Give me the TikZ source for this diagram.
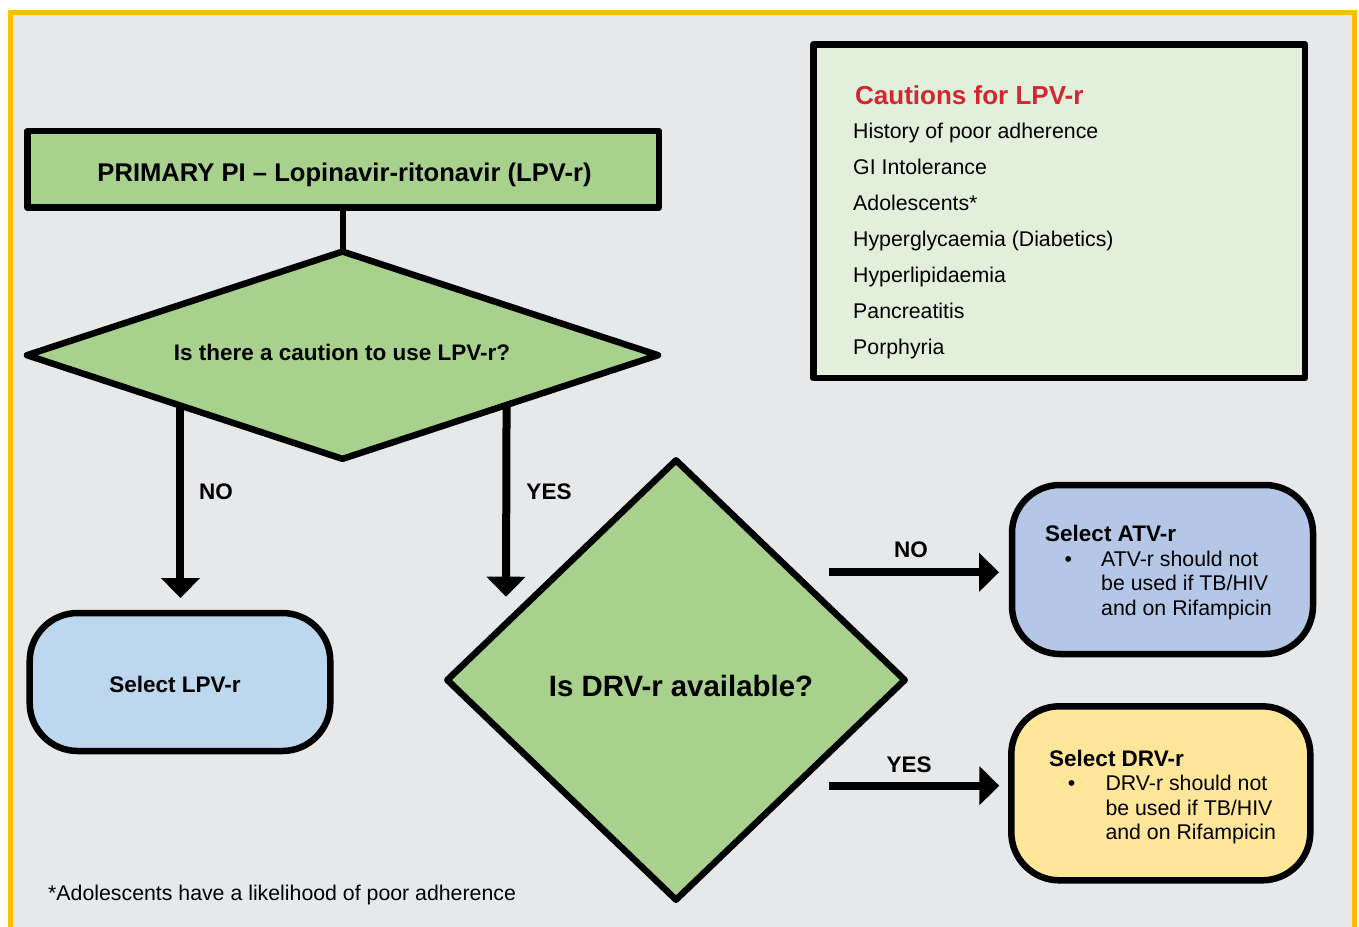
\documentclass[tikz,border=0pt]{standalone}
\usepackage{fontspec}
\setmainfont{Liberation Sans}
\usetikzlibrary{shapes.geometric,arrows.meta,calc}
\definecolor{pagegray}{HTML}{E7E8EA}
\definecolor{frameyellow}{HTML}{FFC000}
\definecolor{decgreen}{HTML}{A9D18E}
\definecolor{lpvblue}{HTML}{BDD7EE}
\definecolor{atvblue}{HTML}{B4C7E7}
\definecolor{drvyellow}{HTML}{FFE699}
\definecolor{cautiongreen}{HTML}{E2EFDA}
\definecolor{cautionred}{HTML}{D22630}
\begin{document}
\begin{tikzpicture}[x=1pt,y=-1pt,
  outline/.style={draw=black,line width=6.5pt,line join=round,outer sep=0pt,inner sep=0pt},
  plainbox/.style={outline,rectangle},
  roundbox/.style={outline,rectangle,rounded corners=48pt},
  decision/.style={outline,diamond,fill=decgreen},
  txt/.style={font=\fontsize{21.3}{24}\selectfont,inner sep=0pt},
  btxt/.style={font=\fontsize{22.5}{26}\selectfont\bfseries,inner sep=0pt},
  arr/.style={line width=8pt,-{Triangle[length=20pt,width=38pt]}},
  link/.style={line width=6.5pt},
]
\useasboundingbox (0,0) rectangle (1359,926);
\clip (0,0) rectangle (1359,926);
\fill[white] (0,0) rectangle (1359,926);
% page frame
\draw[frameyellow,line width=5pt,fill=pagegray] (10.5,12.5) rectangle (1354.5,960);

% primary choice
\node[plainbox,fill=decgreen,minimum width=631.7pt,minimum height=76.3pt] (title) at (343.2,169.3) {};
\node[font=\fontsize{25.6}{30}\selectfont\bfseries,inner sep=0pt,anchor=base] (titletext) at (344.5,181.7)
  {PRIMARY PI -- Lopinavir-ritonavir (LPV-r)};

% first decision
\node[decision,minimum width=631pt,minimum height=207.3pt] (d1) at (342.5,355.2) {};
\node[btxt,anchor=base] (d1text) at (342,360) {Is there a caution to use LPV-r?};
\draw[link] (title.south) -- (title.south |- d1.north);

% outcome boxes
\node[roundbox,fill=lpvblue,minimum width=300.6pt,minimum height=138pt] (lpv) at (180,682) {};
\node[btxt,anchor=base] (lpvtext) at (175,692) {Select LPV-r};

\node[decision,minimum width=457.4pt,minimum height=439.4pt] (d2) at (676,680) {};
\node[font=\fontsize{29.4}{34}\selectfont\bfseries,inner sep=0pt,anchor=base] (d2text) at (681,696.5) {Is DRV-r available?};

\node[roundbox,fill=atvblue,minimum width=301pt,minimum height=169pt] (atv) at (1162.5,569.5) {};
\node[btxt,anchor=base west] (atvhead) at (1045,541.7) {Select ATV-r};
\node[txt,anchor=base] (atvbullet) at (1068.3,566.7) {\textbullet};
\node[txt,anchor=base west] (atvl1) at (1101,566.7) {ATV-r should not};
\node[txt,anchor=base west] (atvl2) at (1101,590.7) {be used if TB/HIV};
\node[txt,anchor=base west] (atvl3) at (1101,615) {and on Rifampicin};

\node[roundbox,fill=drvyellow,minimum width=299pt,minimum height=174pt] (drv) at (1160.8,793.3) {};
\node[btxt,anchor=base west] (drvhead) at (1049,766) {Select DRV-r};
\node[txt,anchor=base] (drvbullet) at (1071.7,790.7) {\textbullet};
\node[txt,anchor=base west] (drvl1) at (1105.3,790.7) {DRV-r should not};
\node[txt,anchor=base west] (drvl2) at (1105.3,815) {be used if TB/HIV};
\node[txt,anchor=base west] (drvl3) at (1105.3,839.3) {and on Rifampicin};

% cautions panel
\node[plainbox,fill=cautiongreen,minimum width=491.7pt,minimum height=333.7pt] (cautions) at (1059.2,211.2) {};
\node[font=\fontsize{26}{30}\selectfont\bfseries,text=cautionred,inner sep=0pt,anchor=base west] (cautionhead) at (855,104.3) {Cautions for LPV-r};
\foreach \item [count=\i] in {History of poor adherence,GI Intolerance,Adolescents*,Hyperglycaemia (Diabetics),Hyperlipidaemia,Pancreatitis,Porphyria}
  \node[txt,anchor=base west] (caution\i) at (853,{138.3+36*(\i-1)}) {\item};

% connectors
\coordinate (noStart) at ($(d1.west)!0.4865!(d1.south)$);
\coordinate (yesStart) at ($(d1.south)!0.52!(d1.east)$);
\coordinate (yesEnd) at (506,596.7);
\draw[arr] (noStart) -- ([yshift=15pt]noStart |- lpv.north);
\draw[arr] (yesStart) -- (yesEnd);
\node[btxt,anchor=base] (nolabel) at (216,499) {NO};
\node[btxt,anchor=base] (yeslabel) at (549,499) {YES};

\coordinate (noRight) at (829.3,572.3);
\coordinate (yesRight) at (829.3,785.7);
\draw[arr] (noRight) -- ([xshift=-13pt]noRight -| atv.west);
\draw[arr] (yesRight) -- ([xshift=-12pt]yesRight -| drv.west);
\node[btxt,anchor=base] (nolabel2) at (911,557) {NO};
\node[btxt,anchor=base] (yeslabel2) at (909,772) {YES};

% footnote
\node[txt,anchor=base west] (footnote) at (48,900.5) {*Adolescents have a likelihood of poor adherence};
\end{tikzpicture}
\end{document}
